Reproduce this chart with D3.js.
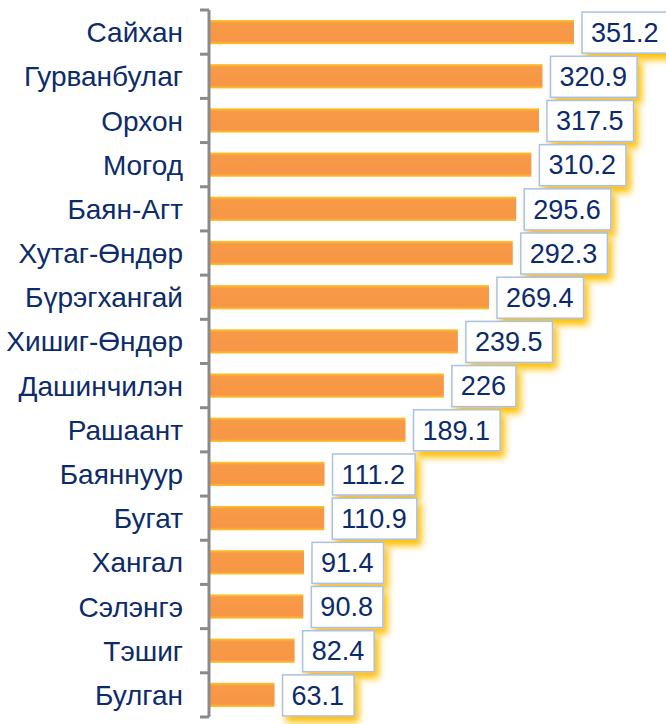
<!DOCTYPE html>
<html><head><meta charset="utf-8">
<script src="https://cdn.jsdelivr.net/npm/d3@7"></script>
<style>body{margin:0;background:#fff}svg{display:block}</style>
</head><body>
<svg id="c" width="666" height="724"></svg>
<script>
const categories = ["Сайхан","Гурванбулаг","Орхон","Могод","Баян-Агт","Хутаг-Өндөр","Бүрэгхангай","Хишиг-Өндөр","Дашинчилэн","Рашаант","Баяннуур","Бугат","Хангал","Сэлэнгэ","Тэшиг","Булган"];
const values = [351.2,320.9,317.5,310.2,295.6,292.3,269.4,239.5,226,189.1,111.2,110.9,91.4,90.8,82.4,63.1];
const valueLabels = ["351.2","320.9","317.5","310.2","295.6","292.3","269.4","239.5","226","189.1","111.2","110.9","91.4","90.8","82.4","63.1"];

const svg = d3.select("#c");
const navy = "#0c2b6b";
const defs = svg.append("defs");
const g = defs.append("linearGradient").attr("id","barg").attr("x1",0).attr("y1",0).attr("x2",0).attr("y2",1);
g.append("stop").attr("offset","0%").attr("stop-color","#ffc526");
g.append("stop").attr("offset","13%").attr("stop-color","#f79a48");
g.append("stop").attr("offset","87%").attr("stop-color","#f79646");
g.append("stop").attr("offset","100%").attr("stop-color","#ffc526");
const f = defs.append("filter").attr("id","glow").attr("x","-20%").attr("y","-30%").attr("width","150%").attr("height","180%");
f.append("feDropShadow").attr("dx",4).attr("dy",6).attr("stdDeviation",3.5).attr("flood-color","#ffbf00").attr("flood-opacity",1);

const x = d3.scaleLinear().domain([0,400]).range([209, 624.7]);
const y = d3.scaleBand().domain(categories).range([10,717]).paddingInner(0.45).paddingOuter(0.225);
const step = y.step();

// bars
svg.append("g").selectAll("rect").data(categories).join("rect")
  .attr("x", x(0))
  .attr("y", d => y(d))
  .attr("width", (d,i) => x(values[i]) - x(0))
  .attr("height", y.bandwidth())
  .attr("fill","url(#barg)");

// axis
const ax = svg.append("g").attr("stroke","#8a8a8a").attr("stroke-width",3);
ax.append("line").attr("x1",x(0)).attr("x2",x(0)).attr("y1",y.range()[0]).attr("y2",y.range()[1]);
d3.range(categories.length+1).forEach(i => {
  const yy = y.range()[0] + i*step;
  ax.append("line").attr("x1",x(0)-9).attr("x2",x(0)).attr("y1",yy).attr("y2",yy);
});

// category labels
svg.append("g").selectAll("text").data(categories).join("text")
  .attr("x", 183)
  .attr("y", d => y(d) + y.bandwidth()/2)
  .attr("dy","0.36em")
  .attr("text-anchor","end")
  .attr("font-family","Liberation Sans, Arial, sans-serif")
  .attr("font-size",28)
  .attr("fill",navy)
  .text(d => d);

// value labels
const lg = svg.append("g");
categories.forEach((c,i) => {
  const cy = y(c) + y.bandwidth()/2;
  const bx = x(values[i]) + 8;
  const grp = lg.append("g");
  const rect = grp.append("rect");
  const t = grp.append("text")
    .attr("x", bx + 9)
    .attr("y", cy)
    .attr("dy","0.36em")
    .attr("font-family","Liberation Sans, Arial, sans-serif")
    .attr("font-size",27)
    .attr("fill",navy)
    .text(valueLabels[i]);
  const w = t.node().getComputedTextLength();
  rect.attr("x",bx).attr("y",cy-20).attr("width",w+19).attr("height",41)
    .attr("fill","#fff").attr("stroke","#a8c2e6").attr("stroke-width",1.5)
    .attr("filter","url(#glow)");
});
</script>
</body></html>
